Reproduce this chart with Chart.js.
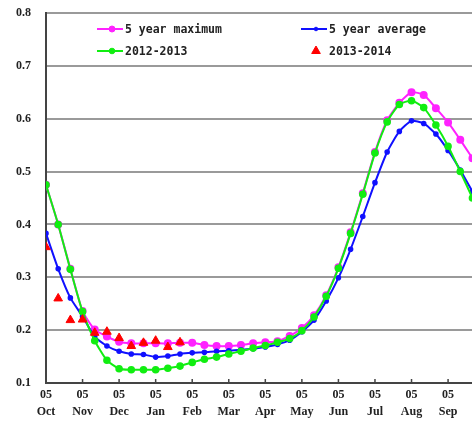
<!DOCTYPE html>
<html>
<head>
<meta charset="utf-8">
<script src="https://cdn.jsdelivr.net/npm/chart.js@4.4.1/dist/chart.umd.min.js"></script>
<style>
    html, body { margin: 0; padding: 0; background: #fff; overflow: hidden; }
    #wrap { width: 472px; height: 424px; overflow: hidden; }
</style>
</head>
<body>
<div id="wrap">
    <canvas id="stockChart" width="515" height="424"></canvas>
</div>
<script>

/* ---------------- DATA ---------------- */

// one point every ten days, starting 05 Oct
const months = ['Oct', 'Nov', 'Dec', 'Jan', 'Feb', 'Mar', 'Apr', 'May', 'Jun', 'Jul', 'Aug', 'Sep'];
const dayLabel = '05';

const max5yr = [0.475, 0.400, 0.316, 0.236, 0.201, 0.188, 0.178, 0.175, 0.175, 0.175, 0.175, 0.176,
    0.176, 0.172, 0.170, 0.170, 0.172, 0.175, 0.177, 0.179, 0.189, 0.204, 0.228, 0.266,
    0.319, 0.385, 0.459, 0.537, 0.597, 0.630, 0.650, 0.645, 0.620, 0.593, 0.560, 0.525];

const avg5yr = [0.383, 0.316, 0.261, 0.226, 0.188, 0.170, 0.160, 0.155, 0.154, 0.149, 0.151, 0.155,
    0.157, 0.158, 0.160, 0.161, 0.163, 0.165, 0.168, 0.173, 0.181, 0.197, 0.219, 0.255,
    0.299, 0.353, 0.415, 0.479, 0.537, 0.576, 0.596, 0.591, 0.571, 0.540, 0.503, 0.462];

const season1213 = [0.475, 0.400, 0.315, 0.235, 0.180, 0.143, 0.127, 0.125, 0.125, 0.125, 0.128, 0.132,
    0.139, 0.145, 0.149, 0.155, 0.160, 0.166, 0.171, 0.177, 0.184, 0.199, 0.225, 0.264,
    0.317, 0.383, 0.457, 0.535, 0.594, 0.627, 0.634, 0.621, 0.588, 0.548, 0.500, 0.450];

const season1314 = [0.357, 0.260, 0.219, 0.220, 0.195, 0.197, 0.185, 0.170, 0.176, 0.180, 0.168, 0.177];

const yTicks = [0.1, 0.2, 0.3, 0.4, 0.5, 0.6, 0.7, 0.8];

/* ---------------- HELPERS ---------------- */

function toPoints(arr) {
    return arr.map((v, i) => ({ x: i, y: v }));
}

const tickFont = { family: 'Liberation Serif', size: 12, weight: 'bold', lineHeight: 1.4 };
const legendFont = 'bold 11.5px "DejaVu Sans Mono"';

// legend drawn inside the plot, two columns
const insideLegend = {
    id: 'insideLegend',
    afterDraw(chart) {
        const ctx = chart.ctx;
        const slots = [
            { ds: 3, x: 97, y: 29 },
            { ds: 2, x: 301, y: 29 },
            { ds: 1, x: 97, y: 51 },
            { ds: 0, x: 301, y: 51 }
        ];
        ctx.save();
        ctx.font = legendFont;
        ctx.textBaseline = 'middle';
        slots.forEach(s => {
            const d = chart.data.datasets[s.ds];
            if (d.showLine !== false) {
                ctx.strokeStyle = d.borderColor;
                ctx.lineWidth = 2;
                ctx.beginPath();
                ctx.moveTo(s.x, s.y);
                ctx.lineTo(s.x + 26, s.y);
                ctx.stroke();
            }
            ctx.fillStyle = d.pointBackgroundColor;
            ctx.strokeStyle = d.pointBorderColor;
            ctx.lineWidth = 1;
            Chart.helpers.drawPoint(ctx, {
                pointStyle: d.pointStyle,
                radius: d.pointRadius,
                borderWidth: 1
            }, s.x + 15, s.y);
            ctx.fillStyle = '#222';
            ctx.fillText(d.label, s.x + 28, s.y + 1);
        });
        ctx.restore();
    }
};

// small inward tick marks on the bottom axis
const innerTicks = {
    id: 'innerTicks',
    afterDatasetsDraw(chart) {
        const ctx = chart.ctx;
        const xs = chart.scales.x;
        const bottom = chart.chartArea.bottom;
        ctx.save();
        ctx.strokeStyle = '#444';
        ctx.lineWidth = 1.5;
        months.forEach((m, k) => {
            if (k === 0) return;
            const px = xs.getPixelForValue(k * 3);
            ctx.beginPath();
            ctx.moveTo(px, bottom);
            ctx.lineTo(px, bottom - 4);
            ctx.stroke();
        });
        ctx.restore();
    }
};

/* ---------------- CHART ---------------- */

new Chart(document.getElementById('stockChart'), {
    type: 'line',
    data: {
        datasets: [
            {
                label: '2013-2014',
                data: toPoints(season1314),
                showLine: false,
                pointStyle: 'triangle',
                pointRadius: 5,
                pointBackgroundColor: '#ff0000',
                pointBorderColor: '#ff0000',
                borderColor: '#ff0000',
                order: 0
            },
            {
                label: '2012-2013',
                data: toPoints(season1213),
                borderColor: '#11ee11',
                borderWidth: 2,
                pointStyle: 'circle',
                pointRadius: 2.8,
                pointBackgroundColor: '#11ee11',
                pointBorderColor: '#11ee11',
                tension: 0.2,
                order: 1
            },
            {
                label: '5 year average',
                data: toPoints(avg5yr),
                borderColor: '#1010ff',
                borderWidth: 2,
                pointStyle: 'circle',
                pointRadius: 1.8,
                pointBackgroundColor: '#1010ff',
                pointBorderColor: '#1010ff',
                tension: 0.2,
                order: 2
            },
            {
                label: '5 year maximum',
                data: toPoints(max5yr),
                borderColor: '#ff22ff',
                borderWidth: 2,
                pointStyle: 'circle',
                pointRadius: 3,
                pointBackgroundColor: '#ff22ff',
                pointBorderColor: '#ff22ff',
                tension: 0.2,
                order: 3
            }
        ]
    },
    options: {
        responsive: false,
        animation: false,
        devicePixelRatio: 1,
        layout: { padding: { top: 13, right: 0, bottom: 0, left: 0 } },
        plugins: {
            legend: { display: false },
            tooltip: { enabled: false }
        },
        scales: {
            x: {
                type: 'linear',
                min: 0,
                max: 38,
                afterBuildTicks: scale => {
                    scale.ticks = months.map((m, k) => ({ value: k * 3 }));
                },
                afterFit: scale => {
                    scale.height = 41;
                    scale.paddingLeft = 0;
                    scale.paddingRight = 0;
                },
                grid: { display: false, drawTicks: false },
                border: { display: true, color: '#444', width: 2 },
                ticks: {
                    autoSkip: false,
                    maxRotation: 0,
                    padding: 4,
                    color: '#222',
                    font: tickFont,
                    callback: v => [dayLabel, months[v / 3]]
                }
            },
            y: {
                min: 0.1,
                max: 0.8,
                afterBuildTicks: scale => {
                    scale.ticks = yTicks.map(v => ({ value: v }));
                },
                afterFit: scale => {
                    scale.width = 46;
                    scale.paddingTop = 0;
                    scale.paddingBottom = 0;
                },
                grid: { color: '#9a9a9a', lineWidth: 2, drawTicks: false },
                border: { display: true, color: '#444', width: 2 },
                ticks: {
                    padding: 15,
                    color: '#222',
                    font: tickFont,
                    callback: v => v.toFixed(1)
                }
            }
        }
    },
    plugins: [insideLegend, innerTicks]
});

</script>
</body>
</html>
